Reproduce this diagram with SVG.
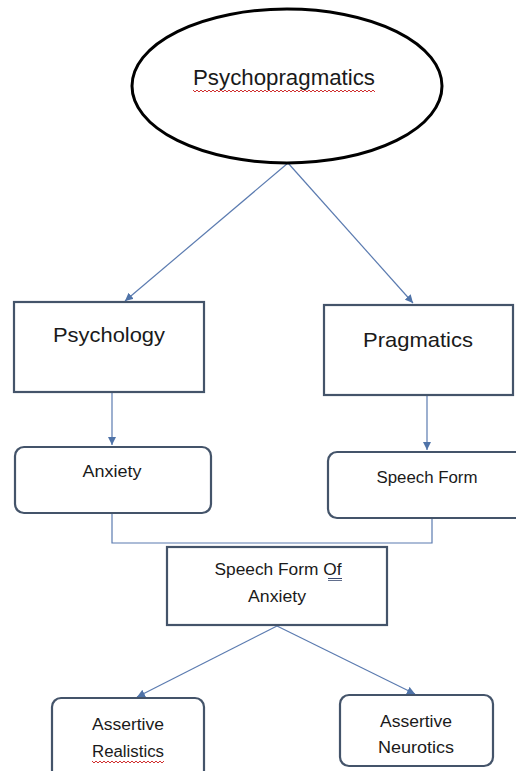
<svg xmlns="http://www.w3.org/2000/svg" width="516" height="771" viewBox="0 0 516 771">
<style>
.box{fill:#fff;stroke:#44546a;stroke-width:2.2}
.conn{fill:none;stroke:#5b7bb0;stroke-width:1.2}
.t{font-family:"Liberation Sans",Arial,sans-serif;fill:#1a1a1a;text-anchor:middle}
.big{font-size:21px}
.sm{font-size:16px}
.wave{fill:none;stroke:#d03030;stroke-width:1}
</style>
<defs>
<marker id="arr" viewBox="0 0 10 10" refX="10" refY="5" markerWidth="8" markerHeight="8" markerUnits="userSpaceOnUse" orient="auto">
<path d="M0,0 L10,5 L0,10 z" fill="#4f73a8"/>
</marker>
</defs>
<rect width="516" height="771" fill="#fff"/>
<g id="connectors">
<line class="conn" x1="288" y1="163" x2="125" y2="301" marker-end="url(#arr)"/>
<line class="conn" x1="288" y1="163" x2="413" y2="303" marker-end="url(#arr)"/>
<line class="conn" x1="112" y1="393" x2="112" y2="445" marker-end="url(#arr)"/>
<line class="conn" x1="427" y1="396" x2="427" y2="450" marker-end="url(#arr)"/>
<polyline class="conn" points="112,514 112,543 432,543 432,519"/>
<line class="conn" x1="277" y1="626" x2="137" y2="697" marker-end="url(#arr)"/>
<line class="conn" x1="277" y1="626" x2="415" y2="694" marker-end="url(#arr)"/>
</g>
<g id="psychopragmatics">
<ellipse cx="287" cy="86" rx="155" ry="77" fill="#fff" stroke="#000" stroke-width="3"/>
<text class="t" x="284" y="85" font-size="22" textLength="182" lengthAdjust="spacingAndGlyphs">Psychopragmatics</text>
<path class="wave" d="M193,90 l2,2 l2,-2 l2,2 l2,-2 l2,2 l2,-2 l2,2 l2,-2 l2,2 l2,-2 l2,2 l2,-2 l2,2 l2,-2 l2,2 l2,-2 l2,2 l2,-2 l2,2 l2,-2 l2,2 l2,-2 l2,2 l2,-2 l2,2 l2,-2 l2,2 l2,-2 l2,2 l2,-2 l2,2 l2,-2 l2,2 l2,-2 l2,2 l2,-2 l2,2 l2,-2 l2,2 l2,-2 l2,2 l2,-2 l2,2 l2,-2 l2,2 l2,-2 l2,2 l2,-2 l2,2 l2,-2 l2,2 l2,-2 l2,2 l2,-2 l2,2 l2,-2 l2,2 l2,-2 l2,2 l2,-2 l2,2 l2,-2 l2,2 l2,-2 l2,2 l2,-2 l2,2 l2,-2 l2,2 l2,-2 l2,2 l2,-2 l2,2 l2,-2 l2,2 l2,-2 l2,2 l2,-2 l2,2 l2,-2 l2,2 l2,-2 l2,2 l2,-2 l2,2 l2,-2 l2,2 l2,-2 l2,2 l2,-2 l2,2"/>
</g>
<g id="psychology">
<rect class="box" x="14" y="302" width="190" height="90"/>
<text class="t big" x="109" y="342" textLength="112" lengthAdjust="spacingAndGlyphs">Psychology</text>
</g>
<g id="pragmatics">
<rect class="box" x="324" y="305" width="189" height="90"/>
<text class="t big" x="418" y="347" textLength="110" lengthAdjust="spacingAndGlyphs">Pragmatics</text>
</g>
<g id="anxiety">
<rect class="box" x="15" y="447" width="196" height="66" rx="9"/>
<text class="t sm" x="112" y="477" textLength="59" lengthAdjust="spacingAndGlyphs">Anxiety</text>
</g>
<g id="speech-form">
<rect class="box" x="328" y="452" width="200" height="66" rx="9"/>
<text class="t sm" x="427" y="483" textLength="101" lengthAdjust="spacingAndGlyphs">Speech Form</text>
</g>
<g id="speech-form-of-anxiety">
<rect class="box" x="167" y="547" width="220" height="78"/>
<text class="t sm" x="278" y="575" textLength="127" lengthAdjust="spacingAndGlyphs">Speech Form Of</text>
<line x1="328" y1="578.5" x2="342" y2="578.5" stroke="#3a4a70" stroke-width="1"/>
<line x1="328" y1="580.5" x2="342" y2="580.5" stroke="#3a4a70" stroke-width="0.8"/>
<text class="t sm" x="277" y="602" textLength="58" lengthAdjust="spacingAndGlyphs">Anxiety</text>
</g>
<g id="assertive-realistics">
<rect class="box" x="52" y="698" width="152" height="90" rx="9"/>
<text class="t sm" x="128" y="730" textLength="72" lengthAdjust="spacingAndGlyphs">Assertive</text>
<text class="t sm" x="128" y="757" textLength="72" lengthAdjust="spacingAndGlyphs">Realistics</text>
<path class="wave" d="M92,761 l2,2 l2,-2 l2,2 l2,-2 l2,2 l2,-2 l2,2 l2,-2 l2,2 l2,-2 l2,2 l2,-2 l2,2 l2,-2 l2,2 l2,-2 l2,2 l2,-2 l2,2 l2,-2 l2,2 l2,-2 l2,2 l2,-2 l2,2 l2,-2 l2,2 l2,-2 l2,2 l2,-2 l2,2 l2,-2 l2,2 l2,-2 l2,2 l2,-2"/>
</g>
<g id="assertive-neurotics">
<rect class="box" x="340" y="695" width="153" height="71" rx="9"/>
<text class="t sm" x="416" y="727" textLength="72" lengthAdjust="spacingAndGlyphs">Assertive</text>
<text class="t sm" x="416" y="753" textLength="76" lengthAdjust="spacingAndGlyphs">Neurotics</text>
</g>
</svg>
